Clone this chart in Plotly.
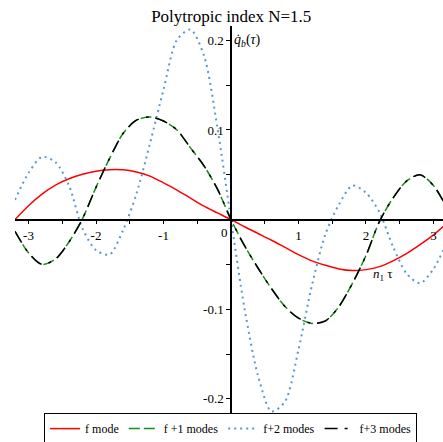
"""Polytropic index N=1.5 -- mode sums of q_b dot against n_1 tau"""

import plotly.graph_objects as go

# sample positions along n_1 tau
tau = [-3.2, -3.0, -2.8, -2.6, -2.4, -2.2, -2.0, -1.8, -1.6, -1.4, -1.2,
       -1.0, -0.8, -0.6, -0.4, -0.2, 0.0, 0.2, 0.4, 0.6, 0.8, 1.0,
       1.2, 1.4, 1.6, 1.8, 2.0, 2.2, 2.4, 2.6, 2.8, 3.0, 3.2]

f_mode = [0.0, 0.0155, 0.0285, 0.0385, 0.0455, 0.0505, 0.054, 0.0556, 0.0555, 0.053, 0.0485,
          0.041, 0.033, 0.024, 0.015, 0.0075, 0.0, -0.008, -0.0155, -0.023, -0.031, -0.039,
          -0.046, -0.051, -0.055, -0.0568, -0.0558, -0.0525, -0.046, -0.038, -0.028, -0.017, -0.004]

f1_modes = [-0.013, -0.037, -0.050, -0.044, -0.025, 0.001, 0.036, 0.068, 0.096, 0.111, 0.1145,
            0.110, 0.100, 0.080, 0.060, 0.034, 0.0, -0.029, -0.054, -0.077, -0.097, -0.110,
            -0.1158, -0.113, -0.097, -0.071, -0.040, -0.002, 0.024, 0.043, 0.050, 0.038, 0.013]

f2_modes = [0.022, 0.052, 0.070, 0.064, 0.038, -0.010, -0.034, -0.039, -0.012, 0.029, 0.085,
            0.145, 0.2006, 0.212, 0.183, 0.102, 0.0, -0.099, -0.174, -0.214, -0.203, -0.145,
            -0.073, -0.016, 0.017, 0.038, 0.030, 0.008, -0.030, -0.060, -0.071, -0.055, -0.025]

f3_modes = [-0.013, -0.037, -0.050, -0.044, -0.025, 0.001, 0.036, 0.068, 0.096, 0.111, 0.1145,
            0.110, 0.100, 0.080, 0.060, 0.034, 0.0, -0.029, -0.054, -0.077, -0.097, -0.110,
            -0.1158, -0.113, -0.097, -0.071, -0.040, -0.002, 0.024, 0.043, 0.050, 0.038, 0.013]

x_ticks = [-3, -2.5, -2, -1.5, -1, -0.5, 0, 0.5, 1, 1.5, 2, 2.5, 3]
x_labels = ["-3", "", "-2", "", "-1", "", "", "", "1", "", "2", "", "3"]
y_ticks = [-0.2, -0.15, -0.1, -0.05, 0.05, 0.1, 0.15, 0.2]
y_labels = ["-0.2", "", "-0.1", "", "", "0.1", "", "0.2"]

X_RANGE = [-3.2, 3.141]
Y_RANGE = [-0.218, 0.216]
SERIF = "Liberation Serif, Times New Roman, serif"


def add_curve(fig, y, name, color, dash, width=1.5):
    """Add one mode sum as a smooth line."""
    fig.add_trace(go.Scatter(x=tau, y=y, name=name, mode="lines",
                             line=dict(color=color, dash=dash, width=width,
                                       shape="spline", smoothing=0.8),
                             hoverinfo="skip"))


fig = go.Figure()
add_curve(fig, f_mode, "f mode", "#ff0000", "solid")
add_curve(fig, f1_modes, "f +1 modes", "#1a8c1a", "11px,4px")
add_curve(fig, f2_modes, "f+2 modes", "#5b97cf", "2px,4px", width=2)
add_curve(fig, f3_modes, "f+3 modes", "#000000", "13px,7px,3px,7px")

# axes cross at the origin, maple style
axis_style = dict(showline=True, linecolor="black", linewidth=1.5,
                  ticks="outside", ticklen=4, tickcolor="black", tickwidth=1,
                  showgrid=False, zeroline=False, automargin=False,
                  tickfont=dict(family=SERIF, size=13, color="black"))
fig.update_xaxes(range=X_RANGE, anchor="free",
                 position=-Y_RANGE[0] / (Y_RANGE[1] - Y_RANGE[0]),
                 tickvals=x_ticks, ticktext=x_labels, **axis_style)
fig.update_yaxes(range=Y_RANGE, anchor="free",
                 position=-X_RANGE[0] / (X_RANGE[1] - X_RANGE[0]),
                 tickvals=y_ticks, ticktext=y_labels, **axis_style)

# origin label and axis names sit next to the axes
fig.add_annotation(x=0, y=0, text="0", showarrow=False, xanchor="right", yanchor="top",
                   xshift=-1, yshift=-3, font=dict(family=SERIF, size=13, color="black"))
fig.add_annotation(x=0, y=0.2, text="<i>q̇</i><sub><i>b</i></sub>(<i>τ</i>)", showarrow=False,
                   xanchor="left", yanchor="middle", xshift=1,
                   font=dict(family=SERIF, size=14, color="black"))
fig.add_annotation(x=2.08, y=-0.061, text="<i>n</i><sub>1</sub> τ", showarrow=False,
                   xanchor="left", yanchor="middle",
                   font=dict(family=SERIF, size=13, color="black"))

fig.update_layout(
    template="none",
    width=443, height=442,
    margin=dict(l=15, r=0, t=26, b=27, autoexpand=False),
    paper_bgcolor="white", plot_bgcolor="white",
    title=dict(text="Polytropic index N=1.5", x=0.522, xref="container",
               y=1 - 16 / 442, yanchor="middle",
               font=dict(family=SERIF, size=17, color="black")),
    legend=dict(orientation="h", x=0.068, xanchor="left", y=-0.035, yanchor="middle",
                bordercolor="black", borderwidth=1, bgcolor="white",
                itemwidth=30, tracegroupgap=0,
                font=dict(family=SERIF, size=12, color="black")),
)

# the page body has a default 8px margin; drop it so the figure fills the window
fig.write_html("out.html", config={"displayModeBar": False},
               post_script="document.body.style.margin = '0';")
